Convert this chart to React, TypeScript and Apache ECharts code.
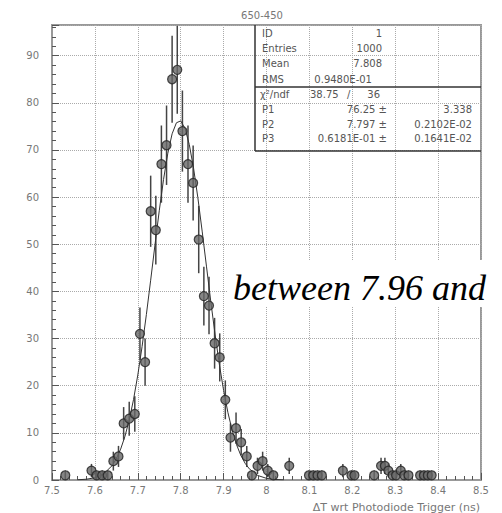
import React, { useEffect, useRef } from 'react';
import * as echarts from 'echarts';

// Histogram bin centres (ns) and counts
const binCenters = [
  7.531, 7.592, 7.604, 7.617, 7.630, 7.643, 7.655, 7.667, 7.680, 7.693,
  7.705, 7.717, 7.730, 7.742, 7.755, 7.767, 7.780, 7.792, 7.804, 7.817,
  7.829, 7.842, 7.854, 7.866, 7.879, 7.891, 7.904, 7.916, 7.929, 7.941,
  7.954, 7.966, 7.979, 7.991, 8.003, 8.016, 8.053, 8.099, 8.109, 8.119,
  8.129, 8.178, 8.198, 8.205, 8.251, 8.267, 8.276, 8.284, 8.294, 8.302,
  8.313, 8.321, 8.331, 8.358, 8.367, 8.376, 8.385,
];
const counts = [
  1, 2, 1, 1, 1, 4, 5, 12, 13, 14,
  31, 25, 57, 53, 67, 71, 85, 87, 74, 67,
  63, 51, 39, 37, 29, 26, 17, 9, 11, 8,
  5, 1, 3, 4, 2, 1, 3, 1, 1, 1,
  1, 2, 1, 1, 1, 3, 3, 2, 1, 1,
  2, 1, 1, 1, 1, 1, 1,
];

// Fitted curve, points
const fitX = [
  7.56, 7.58, 7.60, 7.62, 7.64, 7.65, 7.66, 7.67, 7.68, 7.69,
  7.70, 7.71, 7.72, 7.73, 7.74, 7.75, 7.76, 7.77, 7.78, 7.79,
  7.80, 7.81, 7.82, 7.83, 7.84, 7.85, 7.86, 7.87, 7.88, 7.89,
  7.90, 7.91, 7.92, 7.93, 7.94, 7.95, 7.96, 7.98, 8.00, 8.02, 8.04,
];
const fitY = [
  0.05, 0.16, 0.48, 1.26, 3.03, 4.51, 6.54, 9.24, 12.71, 17.04,
  22.26, 28.31, 35.10, 42.37, 49.84, 57.10, 63.74, 69.31, 73.42, 75.76,
  76.16, 74.58, 71.15, 66.12, 59.86, 52.79, 45.36, 37.96, 30.95, 24.58,
  19.02, 14.34, 10.53, 7.53, 5.25, 3.56, 2.36, 0.95, 0.35, 0.11, 0.03,
];

const titleText = '650-450';
const xAxisName = 'ΔT wrt Photodiode Trigger (ns)';
const overlayText = 'between 7.96 and';

const statLabels = ['ID', 'Entries', 'Mean', 'RMS'];
const statValues = ['1', '1000', '7.808', '0.9480E-01'];
const fitLabels = ['P1', 'P2', 'P3'];
const fitValues = ['76.25 ±', '7.797 ±', '0.6181E-01 ±'];
const fitErrors = ['3.338', '0.2102E-02', '0.1641E-02'];

const FONT = '"DejaVu Sans", sans-serif';
const TXT = '#555';

export default function App() {
  const ref = useRef<HTMLDivElement>(null);
  useEffect(() => {
    const chart = echarts.init(ref.current!, null, { renderer: 'svg' });

    const rowY = [33, 48.5, 63.5, 79, 94, 109, 124, 138.5];
    const g: any[] = [];
    const txt = (text: string, x: number, y: number, align = 'left', size = 10, color = TXT) => ({
      type: 'text', x, y, z: 50,
      style: { text, font: `${size}px ${FONT}`, fill: color, align, verticalAlign: 'middle' },
    });
    g.push(txt(titleText, 262, 15, 'center', 10, '#777'));
    statLabels.forEach((l, i) => g.push(txt(l, 262, rowY[i])));
    statValues.forEach((v, i) => g.push(txt(v, i === 3 ? 372 : 382, rowY[i], 'right')));
    g.push(txt('χ²/ndf', 260, rowY[4]));
    g.push(txt('38.75', 310, rowY[4]));
    g.push(txt('/', 347, rowY[4]));
    g.push(txt('36', 380, rowY[4], 'right'));
    fitLabels.forEach((l, i) => g.push(txt(l, 262, rowY[5 + i])));
    fitValues.forEach((v, i) => g.push(txt(v, 387, rowY[5 + i], 'right')));
    fitErrors.forEach((v, i) => g.push(txt(v, 472, rowY[5 + i], 'right')));
    const ln = (x1: number, y1: number, x2: number, y2: number) => ({
      type: 'line', z: 50, shape: { x1, y1, x2, y2 }, style: { stroke: '#333', lineWidth: 1.5 },
    });
    g.push(ln(255, 25, 255, 151));
    g.push(ln(255, 151, 481, 151));
    g.push(ln(255, 87, 481, 87));
    g.push(txt(xAxisName, 480, 507, 'right', 11, '#777'));
    g.push({ type: 'rect', z: 60, shape: { x: 228, y: 260, width: 274, height: 47 }, style: { fill: '#fff' } });
    g.push({
      type: 'text', x: 233, y: 288, z: 61,
      style: { text: overlayText, font: 'italic 36px "Liberation Serif", serif', fill: '#000', align: 'left', verticalAlign: 'middle' },
    });

    chart.setOption({
      animation: false,
      backgroundColor: '#fff',
      grid: { left: 52, right: 21, top: 25, bottom: 33, show: true, borderColor: '#999', borderWidth: 2 },
      xAxis: {
        type: 'value', min: 7.5, max: 8.5, interval: 0.1,
        axisLine: { show: true, lineStyle: { color: '#999', width: 2 } },
        axisTick: { show: true, inside: true, length: 7, lineStyle: { color: '#555' } },
        minorTick: { show: true, splitNumber: 5, length: 4, lineStyle: { color: '#555' } },
        splitLine: { show: true, lineStyle: { color: '#aaa', type: 'dotted' } },
        axisLabel: { color: '#777', fontSize: 10, fontFamily: FONT, margin: 5,
          formatter: (v: number) => String(+v.toFixed(1)) },
      },
      yAxis: {
        type: 'value', min: 0, max: 96.5, interval: 10,
        axisLine: { show: true, lineStyle: { color: '#999', width: 2 } },
        axisTick: { show: true, inside: true, length: 7, lineStyle: { color: '#555' } },
        minorTick: { show: true, splitNumber: 5, length: 4, lineStyle: { color: '#555' } },
        splitLine: { show: true, lineStyle: { color: '#aaa', type: 'dotted' } },
        axisLabel: { color: '#777', fontSize: 10, fontFamily: FONT, margin: 13, showMaxLabel: false },
      },
      series: [
        {
          type: 'custom',
          data: binCenters.map((x, i) => [x, counts[i], Math.sqrt(counts[i])]),
          encode: { x: 0, y: 1 },
          z: 2,
          renderItem: (_p: any, api: any) => {
            const x = api.value(0), y = api.value(1), e = api.value(2);
            const a = api.coord([x, Math.max(0, y - e)]);
            const b = api.coord([x, y + e]);
            return { type: 'line', shape: { x1: a[0], y1: a[1], x2: b[0], y2: b[1] }, style: { stroke: '#444', lineWidth: 1.5 } };
          },
        },
        {
          type: 'line',
          data: fitX.map((x, i) => [x, fitY[i]]),
          showSymbol: false,
          lineStyle: { color: '#333', width: 1 },
          z: 3,
        },
        {
          type: 'scatter',
          data: binCenters.map((x, i) => [x, counts[i]]),
          symbol: 'circle',
          symbolSize: 9,
          itemStyle: { color: '#666', borderColor: '#222', borderWidth: 1.2 },
          z: 4,
        },
      ],
      graphic: g,
    });
    return () => chart.dispose();
  }, []);
  return <div ref={ref} style={{ position: 'absolute', left: 0, top: 0, width: 502, height: 513 }} />;
}
